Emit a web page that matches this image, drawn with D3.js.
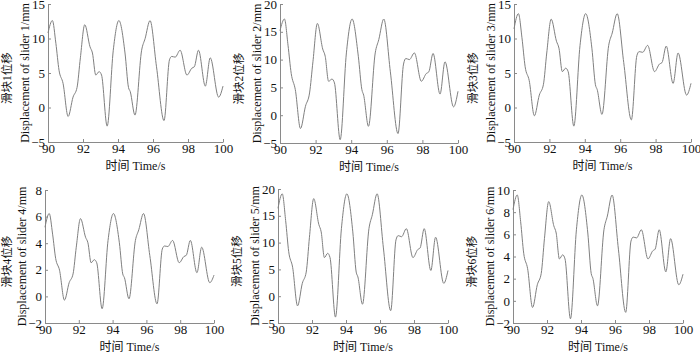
<!DOCTYPE html>
<html lang="en">
  <head>
    <meta charset="utf-8">
    <title>Slider displacement</title>
    <style>
      body { margin: 0; background: #fff; }
      svg { display: block; }
      text { fill: #111; }
    </style>
    <script src="https://d3js.org/d3.v7.min.js"></script>
  </head>
  <body>
    <script>

    // time samples (s), shared by all sliders
    const time = [90.0, 90.25, 90.45, 90.63, 90.86, 91.15, 91.43, 91.66, 91.85, 92.1,
      92.4, 92.54, 92.73, 92.92, 93.06, 93.38, 93.73, 94.05, 94.4, 94.6,
      94.7, 94.97, 95.35, 95.55, 95.83, 96.2, 96.63, 96.94, 97.07, 97.27,
      97.55, 97.94, 98.22, 98.36, 98.6, 98.99, 99.27, 99.75, 100.0]

    // displacement (mm)
    const slider1 = [10.8, 12.6, 9.3, 5.4, 3.5, -1.3, 1.5, 2.9, 7.2, 12.0,
      8.8, 7.9, 4.7, 5.2, 4.7, -2.7, 8.3, 12.6, 7.9, 2.9,
      2.3, -1.1, 8.3, 10.0, 12.6, 5.9, -1.9, 6.9, 7.4, 7.3,
      8.3, 4.7, 5.7, 5.9, 8.3, 3.1, 7.2, 1.5, 3.1]
    const slider2 = [15.2, 17.3, 12.6, 7.5, 4.6, -2.4, 1.6, 4.0, 9.6, 16.5,
      11.9, 10.6, 6.1, 6.5, 5.8, -4.4, 11.2, 17.3, 10.6, 4.6,
      3.6, -2.0, 11.2, 13.6, 17.3, 7.8, -3.3, 9.2, 10.2, 10.0,
      11.2, 6.1, 7.5, 7.8, 11.1, 3.8, 9.6, 1.5, 4.3]
    const slider3 = [11.4, 13.6, 10.1, 5.9, 3.9, -1.2, 1.8, 3.3, 7.9, 12.8,
      9.6, 8.6, 5.2, 5.7, 5.2, -2.7, 9.0, 13.6, 8.6, 3.3,
      2.6, -1.0, 9.0, 10.8, 13.6, 6.5, -1.8, 7.5, 8.1, 8.0,
      9.0, 5.2, 6.3, 6.5, 8.9, 3.5, 7.9, 1.8, 3.5]
    const slider4 = [5.2, 6.23, 4.68, 2.86, 1.97, -0.28, 1.03, 1.69, 3.7, 5.85,
      4.45, 4.03, 2.53, 2.76, 2.53, -0.93, 4.21, 6.23, 4.03, 1.69,
      1.41, -0.18, 4.21, 5.01, 6.23, 3.09, -0.56, 3.56, 3.79, 3.75,
      4.21, 2.53, 3.0, 3.09, 4.21, 1.78, 3.7, 1.03, 1.6]
    const slider5 = [16.4, 19.1, 14.1, 8.3, 5.4, -1.8, 2.4, 4.5, 11.0, 18.2,
      13.4, 12.0, 7.2, 8.0, 7.2, -3.9, 12.6, 19.1, 12.0, 4.5,
      3.6, -1.5, 12.6, 15.2, 19.1, 9.0, -2.7, 10.5, 11.3, 11.1,
      12.6, 7.2, 8.7, 9.0, 12.6, 4.8, 11.0, 2.4, 4.8]
    const slider6 = [8.23, 9.55, 7.14, 4.29, 2.9, -0.6, 1.45, 2.47, 5.61, 8.95,
      6.77, 6.12, 3.78, 4.15, 3.78, -1.62, 6.41, 9.55, 6.12, 2.47,
      2.03, -0.45, 6.41, 7.65, 9.55, 4.66, -1.04, 5.39, 5.75, 5.68,
      6.41, 3.78, 4.51, 4.66, 6.41, 2.61, 5.61, 1.45, 2.4]

    // tick labels
    const xTicks = [90, 92, 94, 96, 98, 100]
    const yTicks1 = [-5, 0, 5, 10, 15]
    const yTicks2 = [-5, 0, 5, 10, 15, 20]
    const yTicks3 = [-5, 0, 5, 10, 15]
    const yTicks4 = [-2, 0, 2, 4, 6, 8]
    const yTicks5 = [-5, 0, 5, 10, 15, 20]
    const yTicks6 = [-2, 0, 2, 4, 6, 8, 10]

    const labelsCn = ["滑块1位移", "滑块2位移", "滑块3位移", "滑块4位移", "滑块5位移", "滑块6位移"]
    const labelsEn = ["Displacement of slider 1/mm", "Displacement of slider 2/mm",
      "Displacement of slider 3/mm", "Displacement of slider 4/mm",
      "Displacement of slider 5/mm", "Displacement of slider 6/mm"]
    const xLabel = "时间 Time/s"

    const series = [slider1, slider2, slider3, slider4, slider5, slider6]
    const yTicks = [yTicks1, yTicks2, yTicks3, yTicks4, yTicks5, yTicks6]

    // panel boxes in pixels (layout only)
    const boxes = [
      { left: 48, right: 223, top: 4, bottom: 142 },
      { left: 280, right: 458, top: 4, bottom: 143 },
      { left: 514, right: 691, top: 4, bottom: 142 },
      { left: 45, right: 214, top: 190, bottom: 323 },
      { left: 278, right: 448, top: 189, bottom: 323 },
      { left: 513, right: 683, top: 190, bottom: 323 }
    ]

    const serif = "'Liberation Serif', 'Times New Roman', 'Noto Sans CJK SC', serif"
    const axisColor = "#8a8a8a"
    const lineColor = "#808080"

    const svg = d3.select("body")
      .append("svg")
      .attr("width", 700)
      .attr("height", 352)

    series.forEach((values, i) => {
      const b = boxes[i]
      const ticks = yTicks[i]
      const g = svg.append("g")

      const x = d3.scaleLinear()
        .domain(d3.extent(xTicks))
        .range([b.left, b.right])

      const y = d3.scaleLinear()
        .domain(d3.extent(ticks))
        .range([b.bottom, b.top])

      const xAxis = d3.axisBottom(x)
        .tickValues(xTicks)
        .tickSizeInner(-3)
        .tickSizeOuter(0)
        .tickPadding(2)
        .tickFormat(d3.format("d"))

      const yAxis = d3.axisLeft(y)
        .tickValues(ticks)
        .tickSizeInner(-3)
        .tickSizeOuter(0)
        .tickPadding(3)
        .tickFormat(d3.format("d"))

      g.append("g")
        .attr("transform", `translate(0,${b.bottom})`)
        .call(xAxis)
        .call(a => a.selectAll("path,line").attr("stroke", axisColor))
        .call(a => a.selectAll("text")
          .style("font-family", serif)
          .style("font-size", "13px")
          .attr("fill", "#111"))

      g.append("g")
        .attr("transform", `translate(${b.left},0)`)
        .call(yAxis)
        .call(a => a.selectAll("path,line").attr("stroke", axisColor))
        .call(a => a.selectAll("text")
          .style("font-family", serif)
          .style("font-size", "13px")
          .attr("fill", "#111"))

      const line = d3.line()
        .x((d, k) => x(time[k]))
        .y(d => y(d))
        .curve(d3.curveMonotoneX)

      g.append("path")
        .datum(values)
        .attr("d", line)
        .attr("fill", "none")
        .attr("stroke", lineColor)
        .attr("stroke-width", 1)

      const midY = (b.top + b.bottom) / 2
      const cnX = Math.max(b.left - 41, 7)

      g.append("text")
        .attr("transform", `translate(${cnX},${midY + 5}) rotate(-90)`)
        .attr("text-anchor", "middle")
        .attr("dominant-baseline", "central")
        .style("font-family", serif)
        .style("font-size", "11.5px")
        .text(labelsCn[i])

      g.append("text")
        .attr("transform", `translate(${b.left - 23},${midY}) rotate(-90)`)
        .attr("text-anchor", "middle")
        .attr("dominant-baseline", "central")
        .style("font-family", serif)
        .style("font-size", "12px")
        .text(labelsEn[i])

      g.append("text")
        .attr("x", (b.left + b.right) / 2)
        .attr("y", b.bottom + 28)
        .attr("text-anchor", "middle")
        .style("font-family", serif)
        .style("font-size", "12px")
        .text(xLabel)
    })
    </script>
  </body>
</html>
